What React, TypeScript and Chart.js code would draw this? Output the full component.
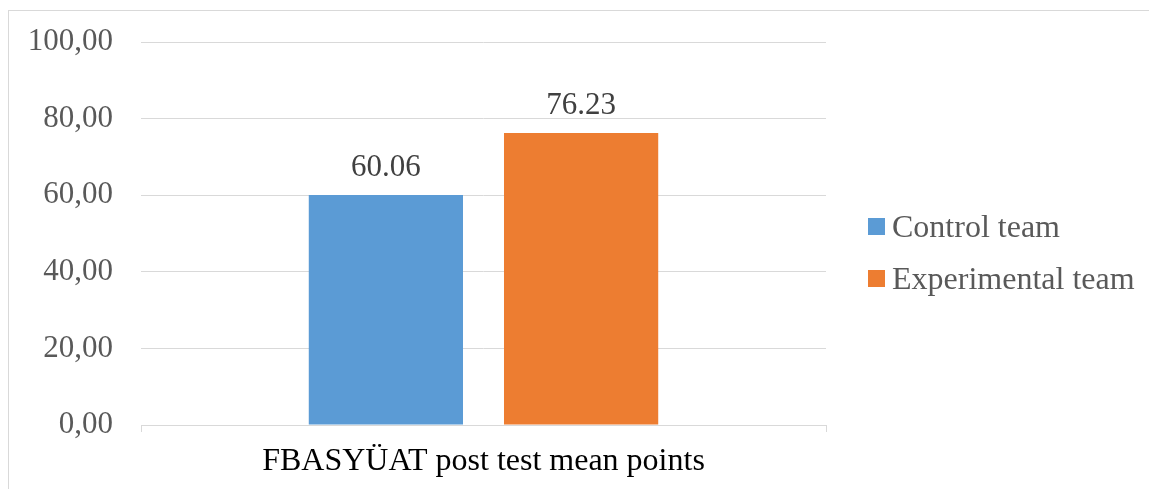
import React, { useEffect, useRef } from "react";
import { Chart, registerables } from "chart.js";

Chart.register(...registerables);

const categories = ["FBASYÜAT post test mean points"];
const seriesNames = ["Control team", "Experimental team"];
const controlValues = [60.06];
const experimentalValues = [76.23];
const seriesColors = ["#5B9BD5", "#ED7D31"];
const yTicks = [0, 20, 40, 60, 80, 100];

const FONT = "'Liberation Serif', 'Times New Roman', serif";

const dataLabelPlugin = {
  id: "dataLabels",
  afterDatasetsDraw(chart: any) {
    const ctx = chart.ctx;
    ctx.save();
    ctx.font = `31px ${FONT}`;
    ctx.fillStyle = "#404040";
    ctx.textAlign = "center";
    ctx.textBaseline = "alphabetic";
    chart.data.datasets.forEach((ds: any, i: number) => {
      const meta = chart.getDatasetMeta(i);
      meta.data.forEach((el: any, j: number) => {
        const v = ds.data[j];
        ctx.fillText(Number(v).toFixed(2), el.x, el.y - 19);
      });
    });
    ctx.restore();
  },
};

const legendPlugin = {
  id: "sideLegend",
  afterDraw(chart: any) {
    const ctx = chart.ctx;
    const area = chart.chartArea;
    const h = chart.height;
    ctx.save();
    ctx.font = `32px ${FONT}`;
    ctx.textAlign = "left";
    ctx.textBaseline = "alphabetic";
    chart.data.datasets.forEach((ds: any, i: number) => {
      const top = h / 2 - 32 + i * 52;
      ctx.fillStyle = ds.backgroundColor;
      ctx.fillRect(area.right + 42, top, 17, 17);
      ctx.fillStyle = "#595959";
      ctx.fillText(ds.label, area.right + 66, top + 18.5);
    });
    ctx.restore();
  },
};

export default function App() {
  const ref = useRef<HTMLCanvasElement | null>(null);

  useEffect(() => {
    if (!ref.current) return;
    const chart = new Chart(ref.current, {
      type: "bar",
      data: {
        labels: categories,
        datasets: [
          {
            label: seriesNames[0],
            data: controlValues,
            backgroundColor: seriesColors[0],
            categoryPercentage: 0.57,
            barPercentage: 0.79,
          },
          {
            label: seriesNames[1],
            data: experimentalValues,
            backgroundColor: seriesColors[1],
            categoryPercentage: 0.57,
            barPercentage: 0.79,
          },
        ],
      },
      options: {
        responsive: false,
        animation: false,
        devicePixelRatio: 1,
        layout: {
          autoPadding: false,
          padding: { left: 19, right: 323, top: 31, bottom: 7 },
        },
        plugins: {
          legend: { display: false },
          tooltip: { enabled: false },
        },
        scales: {
          x: {
            offset: true,
            grid: {
              offset: true,
              drawOnChartArea: false,
              color: "#D9D9D9",
              tickLength: 7,
            },
            border: { color: "#D9D9D9" },
            ticks: {
              color: "#000000",
              font: { family: FONT, size: 32 },
              padding: 10,
              maxRotation: 0,
            },
            afterFit: (scale: any) => {
              scale.height = 57;
              scale.paddingLeft = 0;
              scale.paddingRight = 0;
            },
          },
          y: {
            min: 0,
            max: 100,
            afterBuildTicks: (scale: any) => {
              scale.ticks = yTicks.map((v) => ({ value: v }));
            },
            grid: { color: "#D9D9D9", drawTicks: false },
            border: { display: false },
            ticks: {
              color: "#595959",
              font: { family: FONT, size: 31 },
              padding: 28,
              callback: (v: any) => Number(v).toFixed(2).replace(".", ","),
            },
            afterFit: (scale: any) => {
              scale.width = 113;
              scale.paddingTop = 0;
              scale.paddingBottom = 0;
            },
          },
        },
      },
      plugins: [dataLabelPlugin, legendPlugin],
    });
    return () => chart.destroy();
  }, []);

  return (
    <div
      style={{
        position: "fixed",
        left: 8,
        top: 10,
        width: 1140,
        height: 478,
        borderTop: "1px solid #D9D9D9",
        borderLeft: "1px solid #D9D9D9",
        background: "#fff",
      }}
    >
      <canvas ref={ref} width={1140} height={478} style={{ display: "block" }} />
    </div>
  );
}
